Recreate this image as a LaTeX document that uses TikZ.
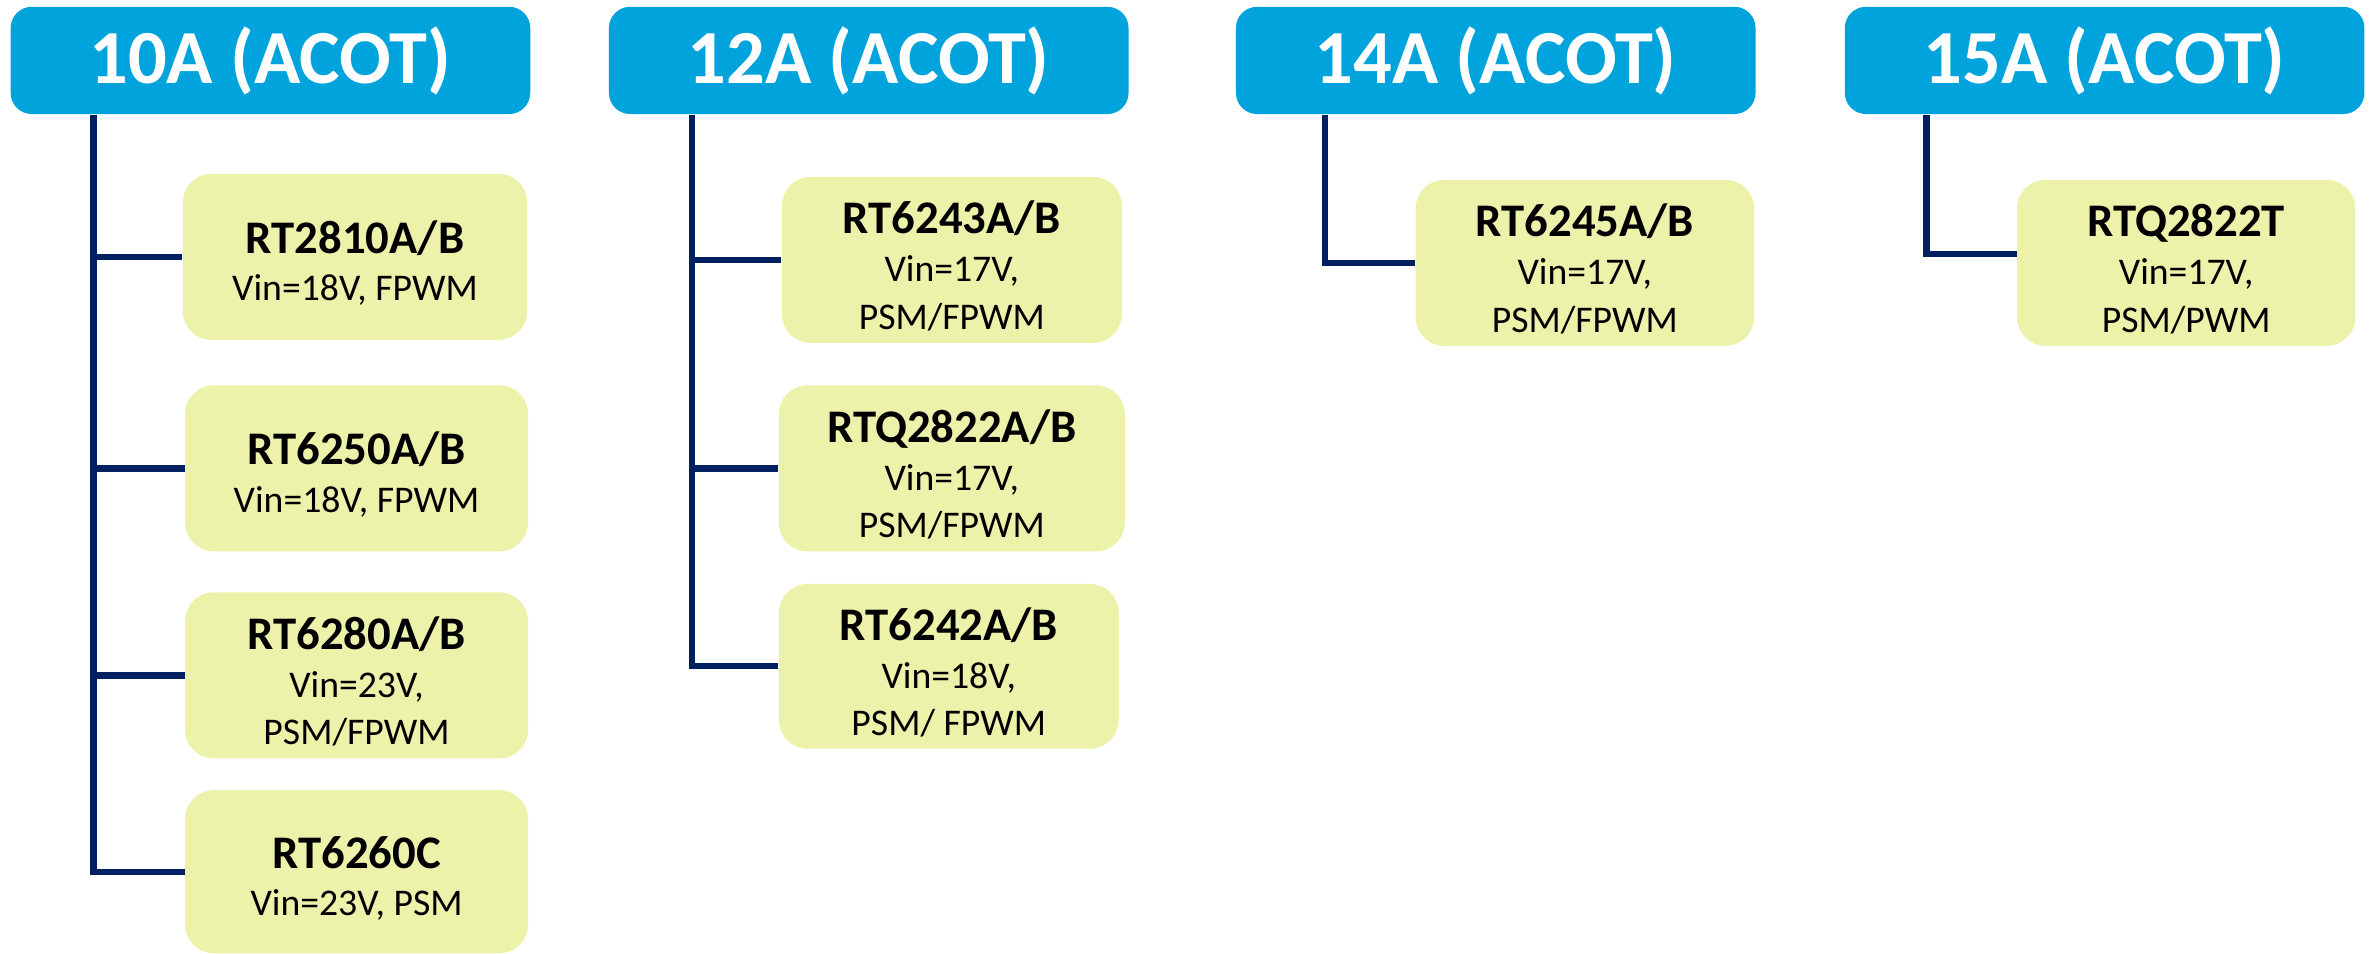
\documentclass[tikz,border=0pt]{standalone}
\usepackage{fontspec}
\setmainfont{Carlito}
\definecolor{hdrc}{HTML}{00A3DC}
\definecolor{boxc}{HTML}{EDF2AA}
\definecolor{lnc}{HTML}{002060}
\newcommand{\ptitle}[1]{{\fontsize{17.6}{17.6}\selectfont\bfseries\rule{0pt}{17pt}#1}}
\begin{document}
\begin{tikzpicture}[x=0.02cm,y=-0.02cm,
 hdrbox/.style={fill=hdrc, rounded corners=0.28cm, minimum width=6.88cm, minimum height=1.42cm, inner sep=0pt, text=white, font=\fontsize{28.8}{28.8}\selectfont\bfseries},
 partbox/.style={fill=boxc, rounded corners=0.38cm, minimum height=2.2cm, inner sep=0pt, align=center, font=\fontsize{14.2}{18}\selectfont},
 conn/.style={draw=lnc, line width=2.4pt}]
\useasboundingbox (0,0) rectangle (1568,631);

% headers
\node[hdrbox] (h1) at (179,40) {10A (ACOT)};
\node[hdrbox] (h2) at (575,40) {12A (ACOT)};
\node[hdrbox] (h3) at (990,40) {14A (ACOT)};
\node[hdrbox] (h4) at (1393,40) {15A (ACOT)};

% 10A parts
\node[partbox, minimum width=4.56cm] (a1) at (235,170) {\ptitle{RT2810A/B}\\Vin=18V, FPWM};
\node[partbox, minimum width=4.54cm] (a2) at (236,310) {\ptitle{RT6250A/B}\\Vin=18V, FPWM};
\node[partbox, minimum width=4.54cm] (a3) at (236,447) {\ptitle{RT6280A/B}\\Vin=23V,\\PSM/FPWM};
\node[partbox, minimum width=4.54cm, minimum height=2.16cm] (a4) at (236,577) {\ptitle{RT6260C}\\Vin=23V, PSM};

% 12A parts
\node[partbox, minimum width=4.5cm] (b1) at (630,172) {\ptitle{RT6243A/B}\\Vin=17V,\\PSM/FPWM};
\node[partbox, minimum width=4.58cm] (b2) at (630,310) {\ptitle{RTQ2822A/B}\\Vin=17V,\\PSM/FPWM};
\node[partbox, minimum width=4.5cm, minimum height=2.18cm] (b3) at (628,441) {\ptitle{RT6242A/B}\\Vin=18V,\\PSM/ FPWM};

% 14A / 15A parts
\node[partbox, minimum width=4.48cm] (c1) at (1049,174) {\ptitle{RT6245A/B}\\Vin=17V,\\PSM/FPWM};
\node[partbox, minimum width=4.48cm] (d1) at (1447,174) {\ptitle{RTQ2822T}\\Vin=17V,\\PSM/PWM};

% trunk coordinates
\coordinate (t1) at (62,0);
\coordinate (t2) at (458,0);
\coordinate (t3) at (877,0);
\coordinate (t4) at (1275,0);

% connectors
\draw[conn] (h1.south -| t1) |- (a4.west);
\draw[conn] (t1 |- a1.west) -- (a1.west);
\draw[conn] (t1 |- a2.west) -- (a2.west);
\draw[conn] (t1 |- a3.west) -- (a3.west);

\draw[conn] (h2.south -| t2) |- (b3.west);
\draw[conn] (t2 |- b1.west) -- (b1.west);
\draw[conn] (t2 |- b2.west) -- (b2.west);

\draw[conn] (h3.south -| t3) |- (c1.west);
\draw[conn] (h4.south -| t4) |- ([yshift=0.12cm]d1.west);
\end{tikzpicture}
\end{document}
